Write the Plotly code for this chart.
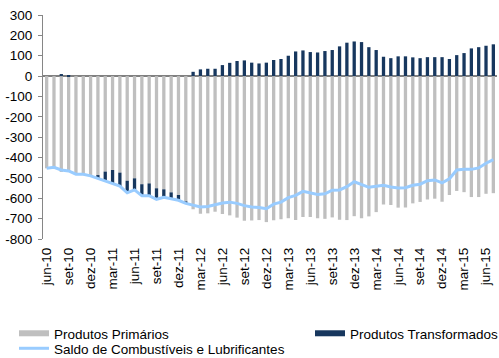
import plotly.graph_objects as go

# Monthly categories, jun-10 to jul-15
meses = [
    "jun-10", "jul-10", "ago-10", "set-10", "out-10", "nov-10", "dez-10",
    "jan-11", "fev-11", "mar-11", "abr-11", "mai-11", "jun-11", "jul-11",
    "ago-11", "set-11", "out-11", "nov-11", "dez-11",
    "jan-12", "fev-12", "mar-12", "abr-12", "mai-12", "jun-12", "jul-12",
    "ago-12", "set-12", "out-12", "nov-12", "dez-12",
    "jan-13", "fev-13", "mar-13", "abr-13", "mai-13", "jun-13", "jul-13",
    "ago-13", "set-13", "out-13", "nov-13", "dez-13",
    "jan-14", "fev-14", "mar-14", "abr-14", "mai-14", "jun-14", "jul-14",
    "ago-14", "set-14", "out-14", "nov-14", "dez-14",
    "jan-15", "fev-15", "mar-15", "abr-15", "mai-15", "jun-15", "jul-15",
]

produtos_primarios = [
    -453, -448, -471, -470, -482, -482, -487, -486, -469, -461,
    -474, -514, -502, -531, -527, -551, -556, -571, -584, -615,
    -654, -676, -674, -666, -677, -684, -695, -710, -709, -707,
    -717, -708, -703, -698, -707, -692, -692, -698, -701, -694,
    -706, -707, -688, -698, -689, -668, -630, -633, -646, -645,
    -625, -618, -606, -602, -617, -584, -564, -570, -594, -594,
    -578, -575,
]

produtos_transformados = [
    0, 0, 10, 4, 0, 0, -3, -16, -45, -64,
    -66, -59, -57, -56, -60, -54, -39, -31, -26, -10,
    21, 33, 36, 36, 54, 65, 74, 77, 66, 62,
    66, 79, 84, 100, 121, 126, 118, 116, 123, 128,
    146, 164, 170, 167, 142, 128, 95, 88, 97, 97,
    92, 88, 93, 93, 93, 84, 103, 113, 136, 142,
    149, 156,
]

saldo = [
    -453, -448, -461, -466, -482, -482, -490, -502, -514, -525,
    -540, -573, -559, -587, -587, -605, -595, -602, -610, -625,
    -633, -643, -640, -630, -623, -619, -625, -636, -643, -645,
    -651, -629, -619, -597, -586, -566, -572, -581, -578, -560,
    -559, -543, -519, -531, -546, -541, -536, -545, -550, -548,
    -536, -531, -514, -510, -524, -504, -461, -458, -458, -451,
    -428, -410,
]

rotulos_x = meses[::3]
ticks_y = list(range(-800, 301, 100))
rotulos_y = [str(v) for v in ticks_y]

COR_PRIM = "#BFBFBF"
COR_TRANS = "#17375E"
COR_SALDO = "#99CCFF"
FONTE = "Liberation Sans, Arial, sans-serif"
TAM = 13.5

fig = go.Figure()

fig.add_trace(go.Bar(x=meses, y=produtos_primarios, name="Produtos Primários",
                     marker=dict(color=COR_PRIM, line=dict(width=0)),
                     showlegend=False))
fig.add_trace(go.Bar(x=meses, y=produtos_transformados, name="Produtos Transformados",
                     marker=dict(color=COR_TRANS, line=dict(width=0)),
                     showlegend=False))
fig.add_trace(go.Scatter(x=meses, y=saldo, mode="lines",
                         name="Saldo de Combustíveis e Lubrificantes",
                         line=dict(color=COR_SALDO, width=3),
                         showlegend=False))

# Legend entries with wide swatches
fig.add_trace(go.Scatter(x=[None], y=[None], mode="lines", name="Produtos Primários",
                         line=dict(color=COR_PRIM, width=6), legend="legend"))
fig.add_trace(go.Scatter(x=[None], y=[None], mode="lines", name="Produtos Transformados",
                         line=dict(color=COR_TRANS, width=6), legend="legend2"))
fig.add_trace(go.Scatter(x=[None], y=[None], mode="lines",
                         name="Saldo de Combustíveis e Lubrificantes",
                         line=dict(color=COR_SALDO, width=3), legend="legend3"))

W, H = 499, 358


def legenda(px, py):
    return dict(xref="container", yref="container", x=px / W, y=1 - py / H,
                xanchor="left", yanchor="top", itemwidth=30,
                font=dict(size=TAM), bgcolor="rgba(0,0,0,0)")


fig.update_layout(
    width=W, height=H,
    margin=dict(l=43, r=2, t=15, b=119, autoexpand=False),
    paper_bgcolor="white", plot_bgcolor="white",
    barmode="relative", bargap=0.55,
    font=dict(family=FONTE, size=TAM, color="#000000"),
    legend=legenda(14, 318),
    legend2=legenda(310, 318),
    legend3=legenda(14, 333),
)

fig.update_xaxes(
    type="category", categoryorder="array", categoryarray=meses,
    range=[-0.5, len(meses) - 0.5],
    tickmode="array", tickvals=rotulos_x, ticktext=rotulos_x,
    tickangle=-90, ticks="", showline=False, showgrid=False,
    tickfont=dict(size=TAM), ticklabelstandoff=5,
)
fig.update_yaxes(
    range=[-800, 300], tickmode="array", tickvals=ticks_y, ticktext=rotulos_y,
    showgrid=False, showline=True, linecolor="#868686", linewidth=1,
    ticks="outside", ticklen=4, tickcolor="#868686", ticklabelstandoff=3,
    zeroline=True, zerolinecolor="#808080", zerolinewidth=1.5,
    tickfont=dict(size=TAM),
)

fig.write_html("out.html")
